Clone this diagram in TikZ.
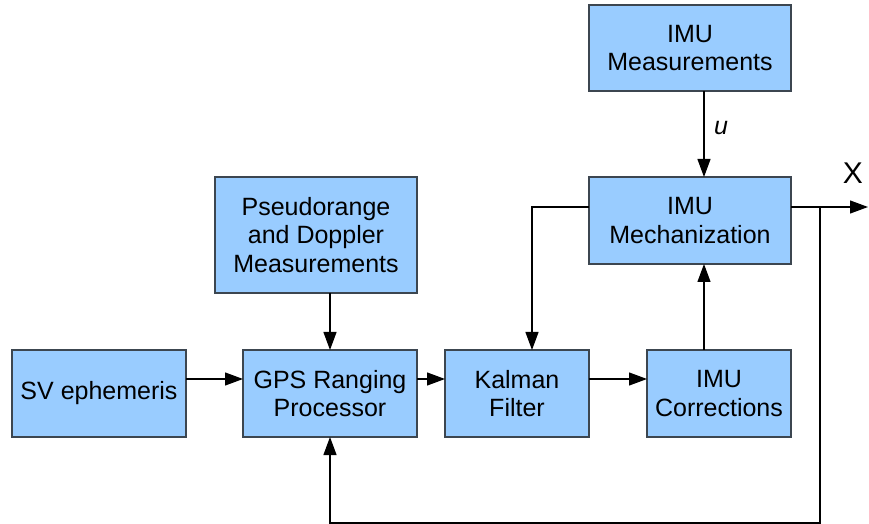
\documentclass[tikz,border=0pt]{standalone}
\usepackage{fontspec}
\setmainfont{Liberation Sans}
\usetikzlibrary{arrows.meta}
\definecolor{boxfill}{HTML}{99CCFF}
\definecolor{boxdraw}{HTML}{3C4650}
\begin{document}
\begin{tikzpicture}[x=0.5pt,y=-0.5pt,
  blk/.style={draw=boxdraw,fill=boxfill,line width=0.6pt,inner sep=0pt,outer sep=0pt,
    align=center,font=\fontsize{12.5pt}{14.3pt}\selectfont},
  con/.style={line width=0.6pt,-{Triangle[length=9pt,width=6.5pt]}},
  ln/.style={line width=0.6pt}]
\useasboundingbox (0,0) rectangle (869,524);
\node[blk,minimum width=101pt,minimum height=43pt] (meas) at (690,48) {IMU\\Measurements};
\node[blk,minimum width=101pt,minimum height=58pt] (pseudo) at (316,235) {Pseudorange\\and Doppler\\Measurements};
\node[blk,minimum width=101pt,minimum height=43.5pt] (mech) at (690,220.5) {IMU\\Mechanization};
\node[blk,minimum width=87pt,minimum height=43.5pt] (sv) at (99,393.5) {SV ephemeris};
\node[blk,minimum width=87pt,minimum height=43.5pt] (gps) at (330,393.5) {GPS Ranging\\Processor};
\node[blk,minimum width=72pt,minimum height=43.5pt] (kal) at (517,393.5) {Kalman\\Filter};
\node[blk,minimum width=72pt,minimum height=43.5pt] (corr) at (719,393.5) {IMU\\Corrections};
\coordinate (vx) at (704,0);
\coordinate (hy) at (0,379);
\coordinate (my) at (0,207);
\coordinate (lx) at (532,0);
\coordinate (fx) at (820,0);
\coordinate (out) at (868,207);
\coordinate (fb) at (820,523);
\node[font=\fontsize{12.5pt}{14pt}\selectfont\itshape] (ulab) at (721,128) {u};
\node[font=\fontsize{15pt}{18pt}\selectfont] (xlab) at (853,173) {X};
\draw[con] (meas.south -| vx) -- (mech.north -| vx);
\draw[con] (corr.north -| vx) -- (mech.south -| vx);
\draw[con] (pseudo.south -| gps.north) -- (gps.north);
\draw[con] (sv.east |- hy) -- (gps.west |- hy);
\draw[con] (gps.east |- hy) -- (kal.west |- hy);
\draw[con] (kal.east |- hy) -- (corr.west |- hy);
\draw[con] (mech.west |- my) -| (kal.north -| lx);
\draw[con] (mech.east |- my) -- (out);
\draw[con] (fx |- my) -- (fb) -| (gps.south);
\end{tikzpicture}
\end{document}
